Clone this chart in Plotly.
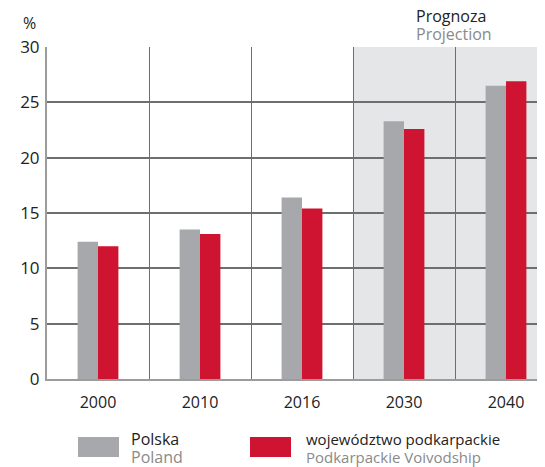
import plotly.graph_objects as go

years = ["2000", "2010", "2016", "2030", "2040"]
poland = [12.4, 13.5, 16.4, 23.3, 26.5]
podkarpackie = [12.0, 13.1, 15.4, 22.6, 26.9]
y_ticks = [0, 5, 10, 15, 20, 25, 30]

GRAY = "#a7a8ab"
RED = "#cf1432"
FONT = "Open Sans"

OFF = 8  # default page body margin
W, H = 545 - OFF, 467 - OFF
L, T, B = 39, 39, 88
PW = W - L
PH = H - T - B

# page-pixel -> paper coords
def px(x):
    return (x - OFF - L) / PW


def py(y):
    return (OFF + T + PH - y) / PH


fig = go.Figure()
fig.add_trace(go.Bar(x=years, y=poland, marker_color=GRAY, marker_line_width=0, name="Polska"))
fig.add_trace(go.Bar(x=years, y=podkarpackie, marker_color=RED, marker_line_width=0,
                     name="województwo podkarpackie"))

# projection shading
fig.add_shape(type="rect", xref="x", yref="y", x0=2.5, x1=4.5, y0=0, y1=30,
              fillcolor="#e5e6e8", line_width=0, layer="below")

annotations = [
    dict(text="%", x=px(21), y=py(23), xanchor="left", yanchor="middle",
         font=dict(size=16, color="#222")),
    dict(text="Prognoza", x=px(414), y=py(16), xanchor="left", yanchor="middle",
         font=dict(size=16, color="#222")),
    dict(text="Projection", x=px(414), y=py(34), xanchor="left", yanchor="middle",
         font=dict(size=16, color="#8a8a8a")),
    dict(text="Polska", x=px(129), y=py(439), xanchor="left", yanchor="middle",
         font=dict(size=16, color="#222")),
    dict(text="Poland", x=px(129), y=py(457), xanchor="left", yanchor="middle",
         font=dict(size=16, color="#8a8a8a")),
    dict(text="województwo podkarpackie", x=px(304), y=py(439), xanchor="left", yanchor="middle",
         font=dict(size=15, color="#222")),
    dict(text="Podkarpackie Voivodship", x=px(304), y=py(457), xanchor="left", yanchor="middle",
         font=dict(size=15, color="#8a8a8a")),
]
for a in annotations:
    a.update(xref="paper", yref="paper", showarrow=False)

shapes_legend = [
    dict(type="rect", xref="paper", yref="paper", x0=px(78), x1=px(119), y0=py(457), y1=py(437),
         fillcolor=GRAY, line_width=0),
    dict(type="rect", xref="paper", yref="paper", x0=px(250), x1=px(291), y0=py(457), y1=py(437),
         fillcolor=RED, line_width=0),
]
for s in shapes_legend:
    fig.add_shape(**s)

fig.update_layout(
    width=W, height=H,
    margin=dict(l=L, r=0, t=T, b=B, pad=0),
    paper_bgcolor="white", plot_bgcolor="white",
    barmode="group", bargap=0.6, bargroupgap=0,
    showlegend=False,
    font=dict(family=FONT, size=15, color="#222"),
    annotations=annotations,
)
fig.update_xaxes(
    type="category", range=[-0.5, 4.5 - 12 / 102],
    tickson="boundaries", showgrid=True, gridcolor="#6d6e70", gridwidth=1,
    ticks="", showline=True, linecolor="#9c9c9c", linewidth=2,
    tickfont=dict(size=16, color="#222"), ticklabelstandoff=8,
)
fig.update_yaxes(
    range=[0, 30], tickvals=y_ticks, showgrid=True, gridcolor="#6d6e70", gridwidth=1.5,
    zeroline=False, ticks="", showline=True, linecolor="#9c9c9c", linewidth=2,
    tickfont=dict(size=17, color="#222"), ticklabelstandoff=2,
)

fig.write_html("out.html")
